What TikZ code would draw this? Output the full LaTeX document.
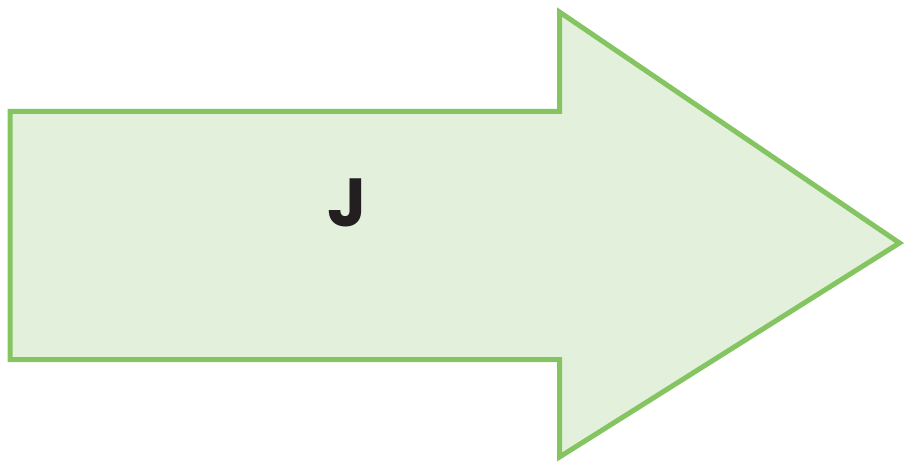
\documentclass[tikz,border=0pt]{standalone}
\usepackage{fontspec}
\setmainfont{Poppins}
\definecolor{arrowline}{HTML}{84C562}
\definecolor{arrowfill}{HTML}{E3F0DC}
\definecolor{txt}{HTML}{231F20}
\begin{document}
\begin{tikzpicture}[x=1pt,y=-1pt,
  arrowshape/.style={draw=arrowline,fill=arrowfill,line width=5pt,line join=miter},
  lbl/.style={text=txt,font=\fontsize{68}{68}\selectfont\bfseries,inner sep=0pt,anchor=base}]
\useasboundingbox (0,0) rectangle (905,462);
\draw[arrowshape] (10,111.5) -- (559.5,111.5) -- (559.5,12) -- (899.5,243) -- (559.5,457) -- (559.5,359.5) -- (10,359.5) -- cycle;
\node[lbl] (j) at (347.5,226.5) {J};
\end{tikzpicture}
\end{document}
